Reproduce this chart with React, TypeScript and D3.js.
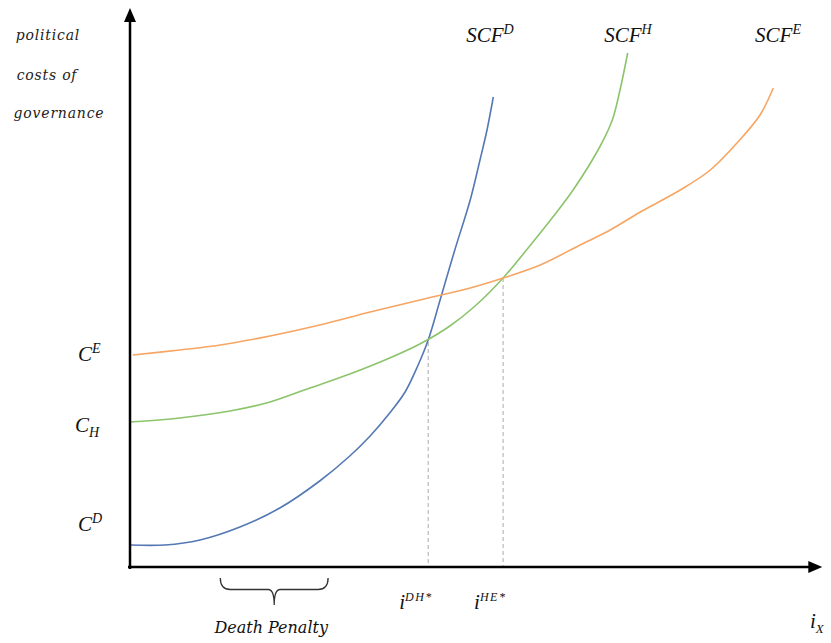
import React from 'react';
import * as d3 from 'd3';

// curve points (x: policy intensity, y: political cost)
const scfD: [number, number][] = [
  [0, 4.4], [5, 4.4], [10, 5.4], [15.7, 8], [21.4, 11.8], [27.1, 17.2], [31.4, 22.2],
  [34.3, 26.2], [37.1, 30.8], [39.3, 35], [41.1, 40.2], [42.6, 45.4], [44.3, 53.4],
  [46.4, 63.4], [48.6, 73.4], [50, 81.4], [51, 87.4], [51.9, 94],
];
const scfH: [number, number][] = [
  [0, 29], [7.1, 29.8], [14.3, 31.2], [20, 33], [25.7, 35.8], [31.4, 38.6], [37.1, 41.8],
  [41.4, 44.6], [45.7, 48.2], [49.3, 52.2], [53.3, 57.8], [57.1, 64.2], [60.3, 69.8],
  [63.3, 75.4], [67.1, 84], [68.9, 89.4], [70, 95.4], [71.1, 102.8],
];
const scfE: [number, number][] = [
  [0.4, 42.4], [7.1, 43.4], [12.9, 44.4], [20, 46.2], [27.1, 48.4], [34.3, 51], [41.4, 53.4],
  [48.6, 55.8], [53.3, 57.8], [58.6, 60.4], [64.3, 64.4], [68.6, 67.4], [72.9, 71],
  [78.6, 75.4], [82.9, 79.4], [87.1, 85.4], [90, 90.4], [91.9, 95.8],
];
const seriesNames = ['D', 'H', 'E'];
const intercepts = [4.4, 29, 42.4]; // C^D, C_H, C^E
const crossings: [number, number][] = [[42.6, 45], [53.3, 57.8]];
const crossingNames = ['DH*', 'HE*'];
const deathPenalty = [12.9, 28.3];
const xMax = 98.9;
const yMax = 111.8;

const W = 831;
const H = 643;

const App: React.FC = () => {
  const x = d3.scaleLinear().domain([0, 100]).range([130, 830]);
  const y = d3.scaleLinear().domain([0, 100]).range([567, 67]);

  const line = d3.line<[number, number]>()
    .x(d => x(d[0]))
    .y(d => y(d[1]))
    .curve(d3.curveCatmullRom.alpha(0.5));

  const colors = ['#5478b4', '#8cc46c', '#f6a563'];
  const data = [scfD, scfH, scfE];
  const labelX = [490, 628, 778];

  const mathFont = '"Liberation Serif", "DejaVu Serif", serif';
  const textFont = '"DejaVu Serif", serif';

  const ax0 = x(0);
  const ay0 = y(0);
  const axTop = y(yMax);
  const axRight = x(xMax);

  const bx1 = x(deathPenalty[0]);
  const bx2 = x(deathPenalty[1]);
  const bm = (bx1 + bx2) / 2;
  const bt = ay0 + 11;
  const bb = ay0 + 38;
  const bmid = (bt + bb) / 2 + 4;
  const brace = `M${bx1},${bt} Q${bx1},${bmid - 6} ${bx1 + 10},${bmid - 6} L${bm - 6},${bmid - 6} Q${bm},${bmid - 6} ${bm},${bb}`
    + ` M${bx2},${bt} Q${bx2},${bmid - 6} ${bx2 - 10},${bmid - 6} L${bm + 6},${bmid - 6} Q${bm},${bmid - 6} ${bm},${bb}`;

  return (
    <svg width={W} height={H} style={{ position: 'absolute', left: 0, top: 0, background: '#fff' }}>
      <rect width={W} height={H} fill="#fff" />

      {/* dashed drop lines */}
      {crossings.map((c, i) => (
        <line key={i} x1={x(c[0])} x2={x(c[0])} y1={y(c[1])} y2={ay0}
          stroke="#aaa" strokeWidth={1} strokeDasharray="4,3" />
      ))}

      {/* curves */}
      {data.map((d, i) => (
        <path key={i} d={line(d) || ''} fill="none" stroke={colors[i]} strokeWidth={1.6} />
      ))}

      {/* axes */}
      <line x1={ax0} x2={ax0} y1={ay0 + 2} y2={axTop + 10} stroke="#000" strokeWidth={2.5} />
      <path d={`M${ax0},${axTop} L${ax0 - 6},${axTop + 14} L${ax0 + 6},${axTop + 14} Z`} fill="#000" />
      <line x1={ax0 - 2} x2={axRight - 10} y1={ay0} y2={ay0} stroke="#000" strokeWidth={2.5} />
      <path d={`M${axRight},${ay0} L${axRight - 14},${ay0 - 6} L${axRight - 14},${ay0 + 6} Z`} fill="#000" />

      {/* y-axis title */}
      <g fontFamily={textFont} fontStyle="italic" fontSize={14} fill="#222" letterSpacing={0.8} textAnchor="middle">
        <text x={48} y={40}>political</text>
        <text x={47} y={80}>costs of</text>
        <text x={59} y={118}>governance</text>
      </g>

      {/* curve labels */}
      {seriesNames.map((s, i) => (
        <text key={s} x={labelX[i]} y={42} fontFamily={mathFont} fontStyle="italic" fontSize={21} fill="#111" textAnchor="middle">
          SCF<tspan dy={-8} fontSize={14}>{s}</tspan>
        </text>
      ))}

      {/* intercept labels */}
      <g fontFamily={mathFont} fontStyle="italic" fontSize={21} fill="#111">
        <text x={78} y={y(intercepts[2]) + 6}>C<tspan dy={-8} fontSize={14}>E</tspan></text>
        <text x={75} y={y(intercepts[1]) + 10}>C<tspan dy={5} fontSize={14}>H</tspan></text>
        <text x={78} y={y(intercepts[0]) - 14}>C<tspan dy={-8} fontSize={14}>D</tspan></text>
      </g>

      {/* crossing labels */}
      {crossings.map((c, i) => (
        <text key={i} x={x(c[0]) - 29} y={ay0 + 42} fontFamily={mathFont} fontStyle="italic" fontSize={21} fill="#111">
          i<tspan dy={-8} fontSize={12} letterSpacing={1.5}>{crossingNames[i]}</tspan>
        </text>
      ))}

      {/* x-axis label */}
      <text x={810} y={ay0 + 61} fontFamily={mathFont} fontStyle="italic" fontSize={21} fill="#111">
        i<tspan dy={5} fontSize={13}>X</tspan>
      </text>

      {/* death penalty brace */}
      <path d={brace} fill="none" stroke="#333" strokeWidth={1.3} />
      <text x={bm - 3} y={ay0 + 66} fontFamily={textFont} fontStyle="italic" fontSize={16} fill="#111" textAnchor="middle">
        Death Penalty
      </text>
    </svg>
  );
};

export default App;
